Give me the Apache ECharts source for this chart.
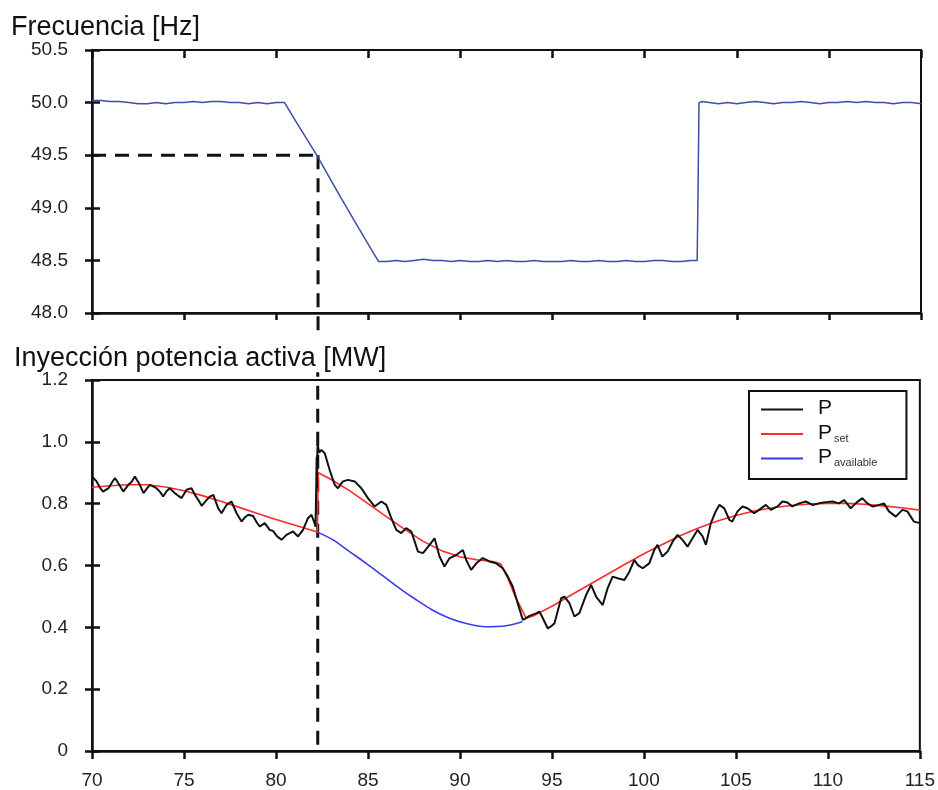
<!DOCTYPE html>
<html>
<head>
<meta charset="utf-8">
<script src="https://cdn.jsdelivr.net/npm/echarts@6/dist/echarts.min.js"></script>
<style>
  html, body { margin: 0; padding: 0; background: #fff; }
  #chart { width: 938px; height: 790px; }
</style>
</head>
<body>
<div id="chart"></div>
<script>
// frequency trace [time s, Hz]
const freqData = [
  [70.0,50.02],[70.5,50.02],[71.0,50.01],[71.5,50.01],[72.0,50.0],[72.5,49.99],[73.0,49.99],[73.5,50.0],
  [74.0,49.99],[74.5,50.0],[75.0,50.0],[75.5,50.01],[76.0,50.0],[76.5,50.01],[77.0,50.01],[77.5,50.0],
  [78.0,50.0],[78.5,49.99],[79.0,50.0],[79.5,49.99],[80.0,50.0],[80.45,50.0],
  [81.0,49.84],[82.2,49.5],[83.5,49.1],[84.5,48.8],[85.55,48.49],
  [86.0,48.49],[86.5,48.5],[87.0,48.49],[87.5,48.5],[88.0,48.51],[88.5,48.5],[89.0,48.5],[89.5,48.49],
  [90.0,48.5],[90.5,48.49],[91.0,48.49],[91.5,48.5],[92.0,48.49],[92.5,48.5],[93.0,48.49],[93.5,48.49],
  [94.0,48.5],[94.5,48.49],[95.0,48.49],[95.5,48.49],[96.0,48.5],[96.5,48.49],[97.0,48.49],[97.5,48.5],
  [98.0,48.49],[98.5,48.49],[99.0,48.5],[99.5,48.49],[100.0,48.49],[100.5,48.5],[101.0,48.5],[101.5,48.49],
  [102.0,48.49],[102.5,48.5],[102.85,48.5],[102.9,49.2],[102.95,50.0],[103.1,50.01],[103.5,50.0],
  [104.0,49.99],[104.5,50.0],[105.0,49.99],[105.5,50.0],[106.0,50.01],[106.5,50.0],[107.0,49.99],
  [107.5,50.0],[108.0,50.0],[108.5,50.01],[109.0,50.0],[109.5,49.99],[110.0,50.0],[110.5,50.0],
  [111.0,50.01],[111.5,50.0],[112.0,50.01],[112.5,50.0],[113.0,50.0],[113.5,49.99],[114.0,50.0],
  [114.5,50.0],[115.0,49.99]
];

// measured active power P [time s, MW]
const pData = [
  [70.0,0.888],[70.25,0.872],[70.45,0.85],[70.6,0.839],[70.9,0.85],[71.1,0.87],[71.25,0.883],[71.43,0.866],
  [71.7,0.839],[71.97,0.861],[72.15,0.87],[72.33,0.888],[72.6,0.861],[72.8,0.834],[73.0,0.85],[73.15,0.861],
  [73.35,0.855],[73.5,0.85],[73.7,0.838],[73.87,0.823],[74.05,0.84],[74.23,0.85],[74.5,0.834],[74.7,0.825],
  [74.87,0.818],[75.14,0.845],[75.41,0.85],[75.6,0.828],[75.8,0.81],[75.96,0.793],[76.2,0.81],[76.4,0.823],
  [76.6,0.828],[76.86,0.785],[77.04,0.769],[77.31,0.796],[77.58,0.807],[77.86,0.769],[78.13,0.742],[78.3,0.755],
  [78.49,0.764],[78.76,0.76],[78.95,0.74],[79.12,0.726],[79.39,0.737],[79.66,0.715],[79.84,0.712],[80.05,0.695],
  [80.3,0.683],[80.57,0.699],[80.75,0.705],[80.93,0.71],[81.2,0.694],[81.47,0.715],[81.74,0.753],[81.93,0.764],
  [82.07,0.742],[82.15,0.725],[82.19,0.86],[82.21,0.95],[82.23,0.85],[82.25,0.97],[82.27,0.99],[82.35,0.965],
  [82.47,0.974],[82.65,0.963],[82.92,0.909],[83.19,0.861],[83.37,0.85],[83.64,0.872],[83.92,0.877],[84.28,0.872],
  [84.64,0.85],[85.0,0.818],[85.36,0.791],[85.73,0.807],[86.0,0.796],[86.27,0.753],[86.54,0.715],[86.81,0.705],
  [87.08,0.721],[87.36,0.71],[87.72,0.645],[87.99,0.64],[88.35,0.667],[88.62,0.688],[88.89,0.629],[89.16,0.597],
  [89.44,0.624],[89.8,0.634],[90.16,0.65],[90.34,0.618],[90.61,0.586],[90.89,0.607],[91.24,0.624],[91.6,0.613],
  [91.97,0.607],[92.33,0.591],[92.6,0.564],[92.87,0.532],[93.14,0.478],[93.42,0.424],[93.6,0.43],[93.78,0.437],
  [94.14,0.445],[94.32,0.451],[94.5,0.43],[94.77,0.397],[94.95,0.403],[95.14,0.413],[95.5,0.494],[95.68,0.499],
  [95.95,0.478],[96.22,0.435],[96.49,0.446],[96.86,0.505],[97.13,0.537],[97.4,0.499],[97.76,0.472],[98.03,0.527],
  [98.3,0.564],[98.57,0.559],[98.94,0.553],[99.21,0.58],[99.48,0.618],[99.66,0.602],[99.93,0.591],[100.29,0.607],
  [100.56,0.65],[100.74,0.667],[101.0,0.629],[101.29,0.645],[101.56,0.677],[101.83,0.699],[102.1,0.683],[102.37,0.661],
  [102.64,0.688],[102.92,0.715],[103.19,0.694],[103.37,0.667],[103.64,0.737],[103.9,0.775],[104.1,0.796],[104.37,0.785],
  [104.64,0.748],[104.8,0.742],[105.09,0.775],[105.36,0.791],[105.63,0.785],[105.99,0.769],[106.26,0.78],[106.63,0.796],
  [106.9,0.78],[107.26,0.791],[107.53,0.807],[107.8,0.804],[108.07,0.791],[108.44,0.801],[108.8,0.807],[109.16,0.796],
  [109.52,0.801],[109.89,0.805],[110.25,0.807],[110.61,0.801],[110.88,0.812],[111.24,0.785],[111.51,0.801],[111.87,0.818],
  [112.14,0.801],[112.42,0.791],[112.78,0.796],[113.05,0.801],[113.32,0.775],[113.69,0.758],[114.05,0.78],[114.32,0.775],
  [114.68,0.742],[115.0,0.737]
];

// setpoint P_set
const pSetData = [
  [70,0.853],[71,0.858],[72,0.861],[73,0.861],[74,0.854],[75,0.842],[76,0.826],[77,0.808],[78,0.788],
  [79,0.768],[80,0.749],[81,0.731],[82.25,0.708],[82.3,0.9],[83,0.878],[84,0.842],[85,0.8],[86,0.758],
  [87,0.717],[88,0.678],[89,0.648],[90,0.628],[91,0.618],[91.8,0.613],[92.2,0.606],[92.6,0.56],[93.0,0.5],
  [93.6,0.43],[94,0.437],[95,0.468],[96,0.503],[97,0.537],[98,0.571],[99,0.605],[100,0.638],[101,0.668],
  [102,0.697],[103,0.722],[104,0.744],[105,0.762],[106,0.776],[107,0.787],[108,0.794],[109,0.799],
  [110,0.801],[111,0.801],[112,0.798],[113,0.793],[114,0.787],[115,0.779]
];

// available power P_available
const pAvailData = [
  [82.25,0.708],[83.1,0.683],[84,0.645],[84.9,0.607],[85.8,0.567],[86.7,0.527],[87.6,0.49],
  [88.5,0.456],[89.4,0.43],[90.3,0.413],[91.4,0.402],[92.5,0.405],[93.4,0.418]
];

// dashed guide: moment the frequency crosses 49.5 Hz
const markTime = 82.27;
const markFreq = 49.5;

const FONT = 'Liberation Sans, Arial, sans-serif';
const chart = echarts.init(document.getElementById('chart'));

const xBase = { type: 'value', min: 70, max: 115, interval: 5, splitLine: { show: false } };
const axisLine = { lineStyle: { color: '#111', width: 2.5 } };
const tickOut = { show: true, length: 7, lineStyle: { color: '#111', width: 2.5 } };
const tickIn = { show: true, inside: true, length: 8, lineStyle: { color: '#111', width: 2.5 } };
const lbl = { color: '#222', fontSize: 19, fontFamily: FONT };
const titleStyle = { fontSize: 27, fontWeight: 'normal', color: '#111', fontFamily: FONT };

const dashStyle = { color: '#111', width: 3, type: [14, 9] };

chart.setOption({
  animation: false,
  backgroundColor: '#fff',
  title: [
    { text: 'Frecuencia [Hz]', left: 11, top: 14, padding: 0, textStyle: titleStyle },
    { text: 'Inyección potencia activa [MW]', left: 14, top: 345, padding: 0, textStyle: titleStyle }
  ],
  grid: [
    { left: 92, right: 17, top: 50, height: 263, show: true, borderColor: '#111', borderWidth: 2 },
    { left: 92, right: 17, top: 380, height: 371, show: true, borderColor: '#111', borderWidth: 2 }
  ],
  xAxis: [
    Object.assign({}, xBase, { gridIndex: 0, axisLine, axisTick: tickOut, axisLabel: { show: false } }),
    Object.assign({}, xBase, { gridIndex: 0, axisLine: { show: false }, axisTick: tickIn, axisLabel: { show: false } }),
    Object.assign({}, xBase, { gridIndex: 1, axisLine, axisTick: tickOut,
      axisLabel: Object.assign({}, lbl, { margin: 20 }) }),
    Object.assign({}, xBase, { gridIndex: 1, axisLine: { show: false }, axisTick: tickIn, axisLabel: { show: false } })
  ],
  yAxis: [
    { type: 'value', gridIndex: 0, min: 48, max: 50.5, interval: 0.5, splitLine: { show: false },
      axisLine, axisTick: tickOut,
      axisLabel: Object.assign({}, lbl, { margin: 24, formatter: v => v.toFixed(1) }) },
    { type: 'value', gridIndex: 0, position: 'left', min: 48, max: 50.5, interval: 0.5, splitLine: { show: false },
      axisLine: { show: false }, axisTick: tickIn, axisLabel: { show: false } },
    { type: 'value', gridIndex: 1, min: 0, max: 1.2, interval: 0.2, splitLine: { show: false },
      axisLine, axisTick: tickOut,
      axisLabel: Object.assign({}, lbl, { margin: 24, formatter: v => v === 0 ? '0' : v.toFixed(1) }) },
    { type: 'value', gridIndex: 1, position: 'left', min: 0, max: 1.2, interval: 0.2, splitLine: { show: false },
      axisLine: { show: false }, axisTick: tickIn, axisLabel: { show: false } }
  ],
  legend: {
    data: ['P', 'Pset', 'Pavailable'],
    orient: 'vertical',
    left: 749, top: 391,
    padding: [3, 29, 5, 12],
    icon: 'rect',
    itemWidth: 42, itemHeight: 2, itemGap: -6.5,
    borderColor: '#111', borderWidth: 2, borderRadius: 0,
    backgroundColor: '#fff',
    formatter: name => name === 'P' ? '{p|P}' : '{p|P}{s|' + name.slice(1) + '}',
    textStyle: {
      rich: {
        p: { fontSize: 21, lineHeight: 20, color: '#111', fontFamily: FONT, padding: [4, 0, 6, 10] },
        s: { fontSize: 11, lineHeight: 10, color: '#333', fontFamily: FONT, verticalAlign: 'bottom', padding: [0, 0, 0, 2] }
      }
    }
  },
  series: [
    { name: 'Frecuencia', type: 'line', xAxisIndex: 0, yAxisIndex: 0, data: freqData,
      symbol: 'none', lineStyle: { color: '#3b4ea8', width: 1.5 }, z: 3 },
    { name: 'guideH', type: 'line', xAxisIndex: 0, yAxisIndex: 0,
      data: [[70, markFreq], [markTime, markFreq]], symbol: 'none', lineStyle: dashStyle, z: 2 },
    { name: 'guideV1', type: 'line', xAxisIndex: 0, yAxisIndex: 0, clip: false,
      data: [[markTime, markFreq], [markTime, 47.78]], symbol: 'none', lineStyle: dashStyle, z: 2 },
    { name: 'guideV2', type: 'line', xAxisIndex: 2, yAxisIndex: 2, clip: false,
      data: [[markTime, 0.02], [markTime, 1.225]], symbol: 'none', lineStyle: dashStyle, z: 2 },
    { name: 'Pavailable', type: 'line', xAxisIndex: 2, yAxisIndex: 2, data: pAvailData,
      symbol: 'none', smooth: 0.3, color: '#3a3af0', lineStyle: { color: '#3a3af0', width: 1.6 }, z: 3 },
    { name: 'Pset', type: 'line', xAxisIndex: 2, yAxisIndex: 2, data: pSetData,
      symbol: 'none', color: '#ff2a2a', lineStyle: { color: '#ff2a2a', width: 1.6 }, z: 3 },
    { name: 'P', type: 'line', xAxisIndex: 2, yAxisIndex: 2, data: pData,
      symbol: 'none', color: '#111', lineStyle: { color: '#111', width: 2 }, z: 4 }
  ]
});
</script>
</body>
</html>
